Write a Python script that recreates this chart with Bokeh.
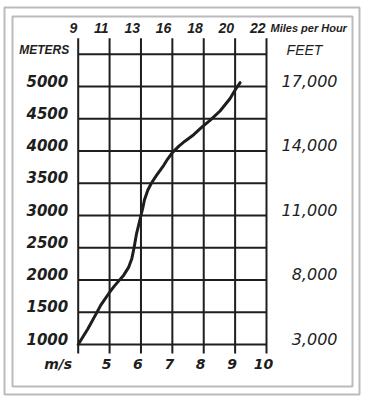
from bokeh.plotting import figure
from bokeh.models import BoxAnnotation, Range1d
from bokeh.core.properties import value
from bokeh.embed import file_html
from bokeh.resources import INLINE

# ---- data ----
speed_ms = [4.00, 4.31, 4.57, 4.72, 4.98, 5.15, 5.30, 5.45, 5.61, 5.71, 5.78, 5.86, 5.94,
            6.00, 6.06, 6.11, 6.22, 6.33, 6.50, 6.72, 6.85, 7.00, 7.21, 7.40, 7.68, 7.95,
            8.20, 8.52, 8.84, 9.00, 9.16]
alt_m = [1000, 1245, 1475, 1610, 1795, 1905, 1990, 2075, 2200, 2335, 2500, 2720, 2880,
         3000, 3120, 3240, 3395, 3500, 3625, 3775, 3875, 3975, 4076, 4152, 4253, 4375,
         4475, 4620, 4814, 4946, 5060]

ms_ticks = [4, 5, 6, 7, 8, 9, 10]
mph_labels = ["9", "11", "13", "16", "18", "20", "22"]
bottom_ticks = [5, 6, 7, 8, 9, 10]
bottom_labels = ["5", "6", "7", "8", "9", "10"]
m_grid = [1000, 1500, 2000, 2500, 3000, 3500, 4000, 4500, 5000, 5500]
m_ticks = [1000, 1500, 2000, 2500, 3000, 3500, 4000, 4500, 5000]
m_labels = ["1000", "1500", "2000", "2500", "3000", "3500", "4000", "4500", "5000"]
ft_levels = [5000, 4000, 3000, 2000, 1000]
ft_labels = ["17,000", "14,000", "11,000", "8,000", "3,000"]

W, H = 366, 398
INK = "#1e1e1e"

# scale: where the 4 m/s and 1000 m gridlines sit on the canvas, and px per unit
px_x0, px_per_ms = 77.7, 31.383
px_y0, px_per_m = 344.0, 0.0645
x_range = Range1d(4 - px_x0 / px_per_ms, 4 + (W - px_x0) / px_per_ms)
y_range = Range1d(1000 - (H - px_y0) / px_per_m, 1000 + px_y0 / px_per_m)

p = figure(width=W, height=H, x_range=x_range, y_range=y_range,
           output_backend="svg", toolbar_location=None,
           x_axis_location=None, y_axis_location=None,
           min_border=0, outline_line_color=None,
           background_fill_color="white", border_fill_color="white",
           styles={"position": "absolute", "left": "0px", "top": "0px"})
p.grid.visible = False

xmin, xmax = min(ms_ticks), max(ms_ticks)
ymin, ymax = min(m_grid), max(m_grid)
ext_lo, ext_hi = ymin - 140, ymax + 250

# grid
p.segment(x0=ms_ticks, y0=[ext_lo] * len(ms_ticks), x1=ms_ticks, y1=[ext_hi] * len(ms_ticks),
          line_color=INK, line_width=2)
p.segment(x0=[xmin] * len(m_grid), y0=m_grid, x1=[xmax] * len(m_grid), y1=m_grid,
          line_color=INK, line_width=2)

# curve
p.line(speed_ms, alt_m, line_color=INK, line_width=3, line_join="round", line_cap="round")

bold_it = dict(text_font=value("DejaVu Sans"), text_font_style="bold italic", text_color=INK)

# left meter labels
p.text(x=[xmin] * len(m_ticks), y=m_ticks, text=m_labels, text_align="right",
       text_baseline="middle", x_offset=-10, y_offset=-6, text_font_size="15px", **bold_it)
p.text(x=[xmin], y=[ymax], text=["METERS"], text_align="right", text_baseline="middle",
       x_offset=-9, y_offset=-4, text_font_size="12px",
       text_font=value("Liberation Sans"), text_font_style="bold italic", text_color=INK)

# right feet labels
p.text(x=[xmax] * len(ft_levels), y=ft_levels, text=ft_labels, text_align="right",
       text_baseline="middle", x_offset=71, y_offset=-6, text_font_size="16px",
       text_font=value("DejaVu Sans"), text_font_style="italic", text_color=INK)
p.text(x=[xmax], y=[ymax], text=["FEET"], text_align="center", text_baseline="middle",
       x_offset=38, y_offset=-4, text_font_size="14px",
       text_font=value("Liberation Sans"), text_font_style="italic", text_color=INK)

# top mph labels
p.text(x=ms_ticks, y=[ymax] * len(ms_ticks), text=mph_labels, text_align="right",
       text_baseline="middle", x_offset=-1, y_offset=-26, text_font_size="14px",
       text_font=value("Liberation Sans"), text_font_style="bold italic", text_color=INK)
p.text(x=[xmax], y=[ymax], text=["Miles per Hour"], text_align="left", text_baseline="middle",
       x_offset=4, y_offset=-26, text_font_size="11px",
       text_font=value("Liberation Sans"), text_font_style="bold italic", text_color=INK)

# bottom m/s labels
p.text(x=bottom_ticks, y=[ymin] * len(bottom_ticks), text=bottom_labels, text_align="center",
       text_baseline="middle", x_offset=-3, y_offset=19, text_font_size="14px", **bold_it)
p.text(x=[xmin], y=[ymin], text=["m/s"], text_align="right", text_baseline="middle",
       x_offset=-6, y_offset=19, text_font_size="14px", **bold_it)

# double frame
for (l, t, r, b) in [(4, 4, 359, 391), (12, 12, 352, 382)]:
    p.add_layout(BoxAnnotation(left=l, right=r, top=t, bottom=b,
                               left_units="screen", right_units="screen",
                               top_units="screen", bottom_units="screen",
                               fill_color=None, line_color=INK, line_width=2))

open("out.html", "w").write(file_html(p, INLINE))
